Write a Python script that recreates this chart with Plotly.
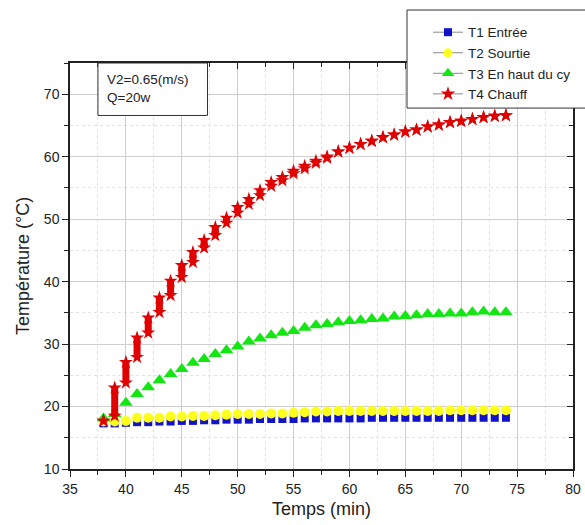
import plotly.graph_objects as go

# ---- data ----
time_min = list(range(38, 75))

t1_entree = [17.3, 17.3, 17.4, 17.5, 17.5, 17.6, 17.6, 17.7, 17.7, 17.8, 17.8, 17.9,
             17.9, 17.9, 18.0, 18.0, 18.0, 18.0, 18.1, 18.1, 18.1, 18.1, 18.1, 18.1,
             18.2, 18.2, 18.2, 18.2, 18.2, 18.2, 18.2, 18.2, 18.2, 18.2, 18.2, 18.2, 18.2]

t2_sortie = [17.6, 17.6, 17.7, 18.2, 18.2, 18.2, 18.4, 18.4, 18.5, 18.5, 18.6, 18.7,
             18.8, 18.8, 18.8, 18.9, 18.9, 19.0, 19.1, 19.2, 19.2, 19.3, 19.3, 19.3,
             19.3, 19.3, 19.3, 19.3, 19.3, 19.3, 19.3, 19.4, 19.4, 19.4, 19.4, 19.4, 19.4]

t3_haut = [18.1, 18.8, 20.6, 22.0, 23.1, 24.2, 25.2, 26.0, 27.0, 27.6, 28.4, 29.0,
           29.6, 30.4, 30.9, 31.4, 31.8, 32.1, 32.6, 33.0, 33.2, 33.5, 33.7, 33.8,
           34.0, 34.1, 34.4, 34.5, 34.6, 34.8, 34.8, 34.9, 34.9, 35.1, 35.2, 35.1, 35.1]

# T4 : several readings per minute early on -> low and high reading of each minute
t4_low = [17.7, 18.5, 23.8, 27.9, 31.8, 35.1, 37.8, 40.7, 43.1, 45.4, 47.4, 49.4,
          51.0, 52.4, 53.8, 55.3, 56.2, 57.3, 58.1, 59.0, 59.8, 60.8, 61.4, 62.0,
          62.5, 63.1, 63.5, 64.0, 64.3, 64.8, 65.1, 65.5, 65.7, 66.0, 66.3, 66.5, 66.6]
t4_high = [17.7, 23.0, 27.1, 31.0, 34.2, 37.4, 40.1, 42.6, 44.7, 46.6, 48.7, 50.2,
           51.9, 53.2, 54.6, 55.9, 56.7, 57.7, 58.5, 59.3, 60.0, 60.8, 61.4, 62.0,
           62.5, 63.1, 63.5, 64.0, 64.3, 64.8, 65.1, 65.5, 65.7, 66.0, 66.3, 66.5, 66.6]

# legend labels as visible in the reference (third one is cut by the picture edge there)
legend_names = ["T1 Entrée", "T2 Sourtie", "T3 En haut du cy", "T4 Chauff"]

BLUE = "#1212C8"
YELLOW = "#FFFF1E"
GREEN = "#14E614"
RED = "#E00000"
FONT = "Liberation Sans, Arial, sans-serif"

fig = go.Figure()

# data traces (markers only)
fig.add_trace(go.Scatter(x=time_min, y=t1_entree, mode="markers", showlegend=False,
                         marker=dict(symbol="square", size=8, color=BLUE)))
fig.add_trace(go.Scatter(x=time_min, y=t2_sortie, mode="markers", showlegend=False,
                         marker=dict(symbol="circle", size=10, color=YELLOW)))
fig.add_trace(go.Scatter(x=time_min, y=t3_haut, mode="markers", showlegend=False,
                         marker=dict(symbol="triangle-up", size=12, color=GREEN)))
span = [h - l for h, l in zip(t4_high, t4_low)]
fig.add_trace(go.Scatter(x=time_min, y=t4_low, mode="markers", showlegend=False,
                         marker=dict(symbol="star", size=10.5, color=RED, line=dict(width=0))))
fig.add_trace(go.Scatter(x=time_min, y=t4_high, mode="markers", showlegend=False,
                         marker=dict(symbol="star", size=10.5, color=RED, line=dict(width=0)),
                         error_y=dict(type="data", symmetric=False, array=[0] * len(span),
                                      arrayminus=span, thickness=7, width=0, color=RED)))

# legend entries (gray line + coloured symbol)
styles = [("square", BLUE, 8), ("circle", YELLOW, 9), ("triangle-up", GREEN, 11), ("star", RED, 11)]
for name, (sym, col, sz) in zip(legend_names, styles):
    fig.add_trace(go.Scatter(x=[None], y=[None], mode="lines+markers", name=name,
                             line=dict(color="#8a8a8a", width=1),
                             marker=dict(symbol=sym, color=col, size=sz)))

# helper trace for the top/right tick axes
fig.add_trace(go.Scatter(x=[None], y=[None], xaxis="x2", yaxis="y2", showlegend=False,
                         hoverinfo="skip"))

axis_common = dict(showline=True, linecolor="#222", linewidth=1.5, mirror=True,
                   ticks="outside", tickcolor="#222", tickwidth=1.2, ticklen=6,
                   tickfont=dict(family=FONT, size=14, color="#222"),
                   gridcolor="#cfcfcf", gridwidth=1, zeroline=False)

fig.update_layout(
    width=585, height=525,
    margin=dict(l=70, r=12, t=63, b=56, autoexpand=False),
    paper_bgcolor="white", plot_bgcolor="white",
    font=dict(family=FONT, color="#222"),
    xaxis=dict(range=[35, 80], tick0=35, dtick=5,
               minor=dict(dtick=2.5, tick0=37.5, ticks="outside", ticklen=4, tickcolor="#222",
                          showgrid=True, gridcolor="#e2e2e2", griddash="dot"),
               title=dict(text="Temps (min)", font=dict(family=FONT, size=18, color="#222"),
                          standoff=7),
               **axis_common),
    yaxis=dict(range=[10, 75], tick0=10, dtick=10,
               minor=dict(dtick=5, tick0=15, ticks="outside", ticklen=4, tickcolor="#222",
                          showgrid=True, gridcolor="#e2e2e2", griddash="dot"),
               title=dict(text="Température (°C)", font=dict(family=FONT, size=18, color="#222"),
                          standoff=10),
               **axis_common),
    xaxis2=dict(overlaying="x", side="top", range=[35, 80], tick0=35, dtick=5,
                ticks="inside", ticklen=6, tickcolor="#222", tickwidth=1.2,
                minor=dict(dtick=2.5, tick0=37.5, ticks="inside", ticklen=4, tickcolor="#222"),
                showticklabels=False, showgrid=False, showline=False, zeroline=False),
    yaxis2=dict(overlaying="y", side="right", range=[10, 75], tick0=10, dtick=10,
                ticks="inside", ticklen=6, tickcolor="#222", tickwidth=1.2,
                minor=dict(dtick=5, tick0=15, ticks="inside", ticklen=4, tickcolor="#222"),
                showticklabels=False, showgrid=False, showline=False, zeroline=False),
    legend=dict(x=0.7117, y=1.1135, xanchor="left", yanchor="top",
                bgcolor="rgba(0,0,0,0)", borderwidth=0,
                font=dict(family=FONT, size=13.5, color="#222"),
                tracegroupgap=0, itemwidth=30),
    showlegend=True,
)

# legend frame (runs past the right edge of the picture, as in the reference)
fig.add_shape(type="rect", xref="paper", yref="paper", x0=0.67, x1=1.2, y0=0.889, y1=1.1305,
              line=dict(color="#333", width=1), fillcolor="white", layer="above")

# annotation box
fig.add_shape(type="rect", xref="x", yref="y", x0=37.5, x1=47.3, y0=66.6, y1=75,
              line=dict(color="#333", width=1), fillcolor="white", layer="above")
fig.add_annotation(x=38.1, y=73.9, xref="x", yref="y", xanchor="left", yanchor="top",
                   text="V2=0.65(m/s)<br>Q=20w", showarrow=False, align="left",
                   font=dict(family=FONT, size=13.5, color="#222"))

fig.write_html("out.html")
